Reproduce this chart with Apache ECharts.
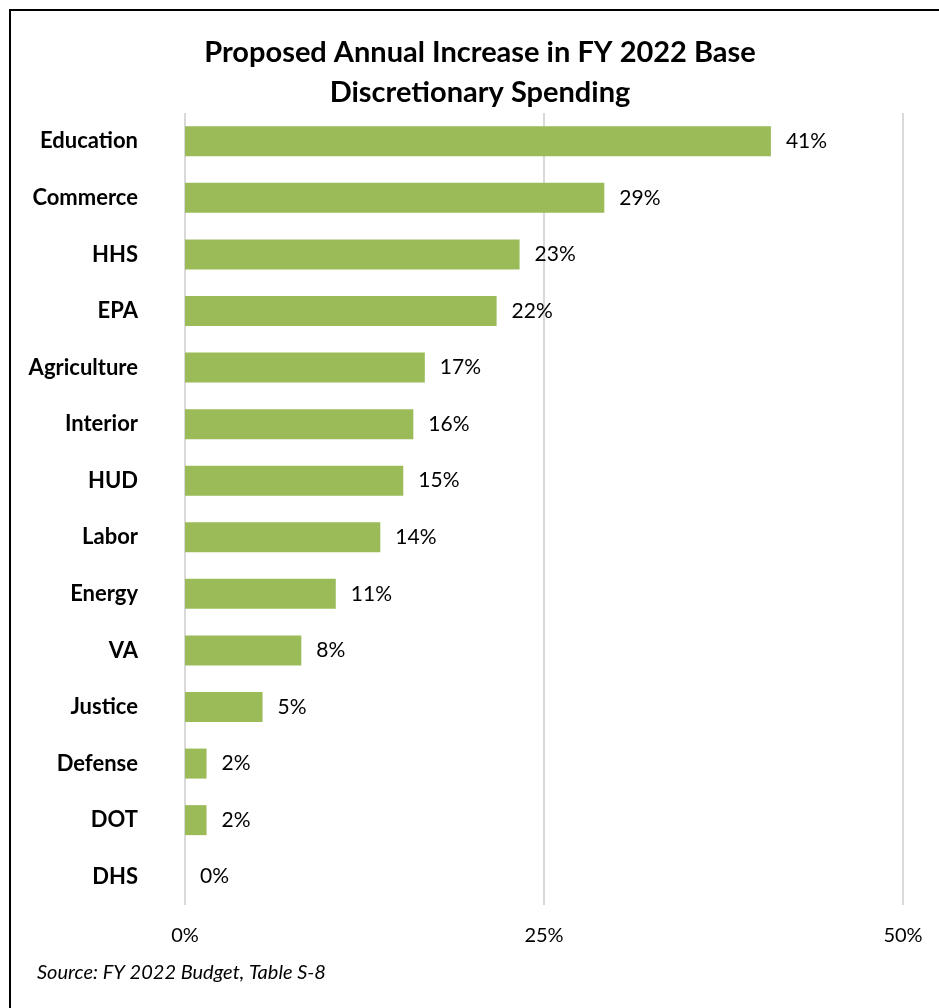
<!DOCTYPE html>
<html><head><meta charset="utf-8">
<script src="https://cdn.jsdelivr.net/npm/echarts@6/dist/echarts.min.js"></script>
<style>
html,body{margin:0;padding:0;background:#fff;}
#frame{position:absolute;left:9px;top:9px;width:1000px;height:1100px;border-left:2px solid #000;border-top:2px solid #000;}
#c{position:absolute;left:0;top:0;width:939px;height:1008px;}
</style></head>
<body><div id="frame"></div><div id="c"></div>
<script>
const categories = ["Education","Commerce","HHS","EPA","Agriculture","Interior","HUD","Labor","Energy","VA","Justice","Defense","DOT","DHS"];
const values = [40.8,29.2,23.3,21.7,16.7,15.9,15.2,13.6,10.5,8.1,5.4,1.5,1.5,0];
const xTicks = [0,25,50];
const FONT = 'Lato';
const chart = echarts.init(document.getElementById('c'));
chart.setOption({
  animation:false,
  backgroundColor:'transparent',
  title:{text:'Proposed Annual Increase in FY 2022 Base\nDiscretionary Spending',left:475,textAlign:'center',top:28,
    textStyle:{fontFamily:FONT,fontWeight:'bold',fontSize:29,lineHeight:40,color:'#000'}},
  graphic:[{type:'text',left:37,top:963,style:{text:'Source: FY 2022 Budget, Table S-8',font:'italic 20px '+FONT,fill:'#000'}}],
  grid:{left:185,right:36,top:113,bottom:103},
  xAxis:{type:'value',min:0,max:50,interval:25,
    axisLine:{show:false},axisTick:{show:false},
    splitLine:{lineStyle:{color:'#d9d9d9',width:2}},
    axisLabel:{formatter:v=>v+'%',fontFamily:FONT,fontSize:20,color:'#000',margin:21}},
  yAxis:{type:'category',data:categories,inverse:true,
    axisLine:{show:false},axisTick:{show:false},
    axisLabel:{fontFamily:FONT,fontWeight:'bold',fontSize:22,color:'#000',margin:47}},
  series:[{type:'bar',data:values,barWidth:30,itemStyle:{color:'#9BBB59'},
    label:{show:true,position:'right',distance:15,formatter:p=>Math.round(p.value)+'%',fontFamily:FONT,fontSize:21,color:'#000'}}]
});
</script></body></html>
